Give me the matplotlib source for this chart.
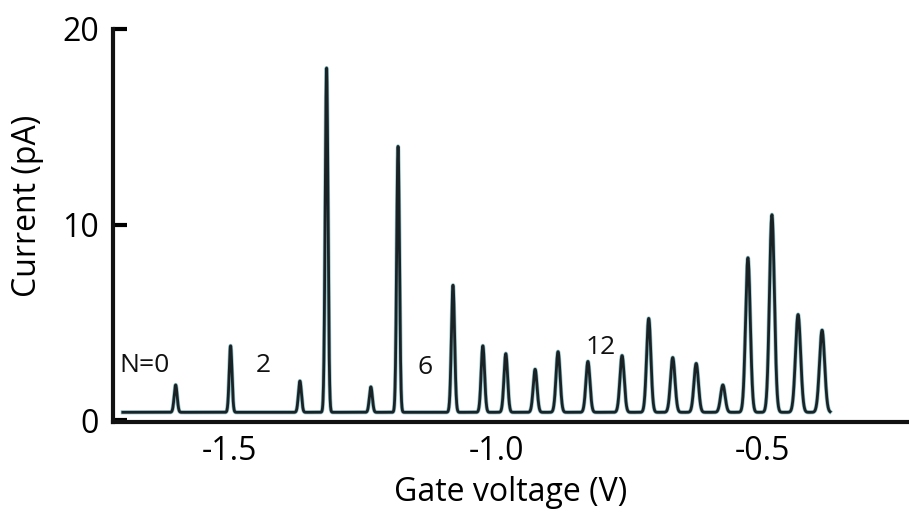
import matplotlib.pyplot as plt
import numpy as np

plt.rcParams['font.family'] = ['Open Sans', 'DejaVu Sans']

# peak positions (V), heights (pA) and widths (V)
peak_v = [-1.601, -1.498, -1.368, -1.318, -1.235, -1.184, -1.081, -1.025,
          -0.982, -0.927, -0.884, -0.828, -0.764, -0.714, -0.669, -0.625,
          -0.575, -0.528, -0.483, -0.434, -0.389]
peak_i = [1.8, 3.8, 2.0, 18.0, 1.7, 14.0, 6.9, 3.8,
          3.4, 2.6, 3.5, 3.0, 3.3, 5.2, 3.2, 2.9,
          1.8, 8.3, 10.5, 5.4, 4.6]
peak_w = [0.0028, 0.0026, 0.0028, 0.0026, 0.0028, 0.0026, 0.0030, 0.0032,
          0.0034, 0.0036, 0.0038, 0.0038, 0.0040, 0.0040, 0.0042, 0.0042,
          0.0042, 0.0044, 0.0046, 0.0048, 0.0048]
baseline = 0.4
v_start, v_end = -1.700, -0.374

labels = ["N=0", "2", "6", "12"]
label_v = [-1.660, -1.436, -1.134, -0.804]
label_i = [2.8, 2.8, 2.7, 3.7]

v = np.linspace(v_start, v_end, 5000)
cur = np.full_like(v, baseline)
for p, h, w in zip(peak_v, peak_i, peak_w):
    cur += (h - baseline) * np.exp(-0.5 * ((v - p) / w) ** 2)

fig = plt.figure(figsize=(9.09, 5.16), dpi=100)
ax = fig.add_axes([0.124, 0.182, 0.876, 0.762])

ax.plot(v, cur, color='#3f9aa3', lw=3.0, alpha=0.55)
ax.plot(v, cur, color='#1a2226', lw=2.0)

for t, x, y in zip(labels, label_v, label_i):
    ax.text(x, y, t, fontsize=19, ha='center', va='center', color='#111111')

ax.set_xlim(-1.719, -0.226)
ax.set_ylim(-0.1, 20)
ax.set_xticks([-1.5, -1.0, -0.5])
ax.set_xticklabels(['-1.5', '-1.0', '-0.5'])
ax.set_yticks([0, 10, 20])

for s in ['top', 'right']:
    ax.spines[s].set_visible(False)
for s in ['left', 'bottom']:
    ax.spines[s].set_linewidth(3)
    ax.spines[s].set_color('#111111')

ax.tick_params(axis='x', length=0, pad=9, labelsize=23)
ax.tick_params(axis='y', direction='in', length=10, width=3, pad=10, labelsize=23)

ax.set_xlabel('Gate voltage (V)', fontsize=23, labelpad=6)
ax.set_ylabel('Current (pA)', fontsize=23)
ax.yaxis.set_label_coords(-0.086, 0.55)

fig.savefig('out.png', dpi=100)
